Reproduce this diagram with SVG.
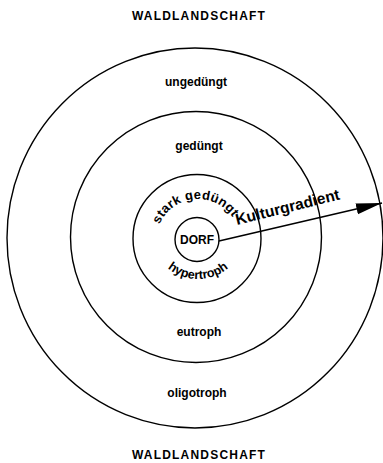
<svg xmlns="http://www.w3.org/2000/svg" width="383" height="463" viewBox="0 0 383 463">
<style>
.ring{fill:none;stroke:#000;stroke-width:1.4}
.lbl{font-family:"Liberation Sans",Arial,sans-serif;font-weight:bold;font-size:12px;fill:#000;text-anchor:middle}
.cap{font-family:"Liberation Sans",Arial,sans-serif;font-weight:bold;font-size:12px;fill:#000;text-anchor:middle;letter-spacing:1.2px}
.conn{fill:none;stroke:#000;stroke-width:1.6}
</style>
<defs>
<marker id="ah" markerUnits="userSpaceOnUse" viewBox="-26 -6 27 12" refX="0" refY="0" markerWidth="27" markerHeight="12" orient="auto">
<path d="M0,0 L-26,-5.5 L-26,5.5 Z" fill="#000"/>
</marker>
<path id="arcTop" d="M156,241 A42,42 0 0 1 240,241"/>
<path id="arcBot" d="M150,231 A48,48 0 0 0 246,231"/>
</defs>
<rect width="383" height="463" fill="#fff"/>
<g id="title-top"><text class="cap" x="199" y="20">WALDLANDSCHAFT</text></g>
<g id="ring-ungeduengt">
<ellipse class="ring" cx="195" cy="238" rx="188" ry="190"/>
<text class="lbl" x="196" y="86">ungedüngt</text>
<text class="lbl" x="197" y="397">oligotroph</text>
</g>
<g id="ring-geduengt">
<circle class="ring" cx="196" cy="237" r="125.5"/>
<text class="lbl" x="199" y="150">gedüngt</text>
<text class="lbl" x="199" y="336">eutroph</text>
</g>
<g id="ring-stark">
<circle class="ring" cx="197" cy="238.5" r="64"/>
<text class="lbl" style="font-size:13px;letter-spacing:0.3px"><textPath href="#arcTop" startOffset="47%">stark gedüngt</textPath></text>
<text class="lbl" style="font-size:12.5px"><textPath href="#arcBot" startOffset="50%">hypertroph</textPath></text>
</g>
<g id="dorf">
<circle class="ring" cx="197" cy="239.5" r="22"/>
<text class="lbl" x="197" y="244">DORF</text>
</g>
<g id="connectors">
<line class="conn" x1="219" y1="241" x2="382" y2="203" marker-end="url(#ah)"/>
<text class="lbl" style="font-size:15.5px;text-anchor:start" transform="translate(237,225) rotate(-14)">Kulturgradient</text>
</g>
<g id="title-bottom"><text class="cap" x="199" y="459">WALDLANDSCHAFT</text></g>
</svg>
